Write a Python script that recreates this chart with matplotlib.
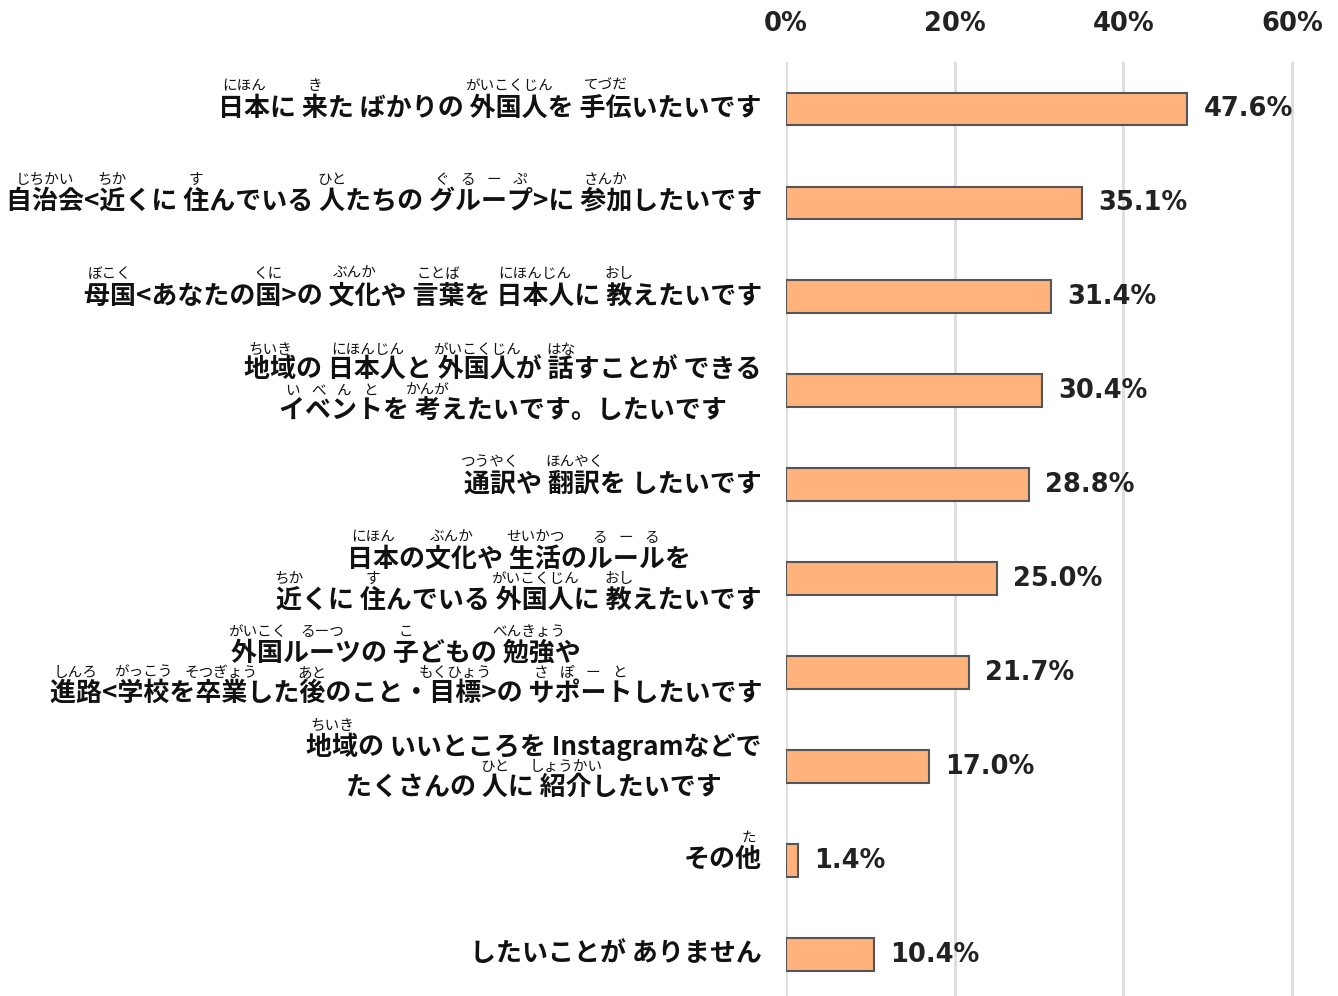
import re
import matplotlib
matplotlib.use("Agg")
import matplotlib.pyplot as plt
from matplotlib import transforms
from matplotlib.font_manager import FontProperties

plt.rcParams['font.family'] = ['Noto Sans CJK JP', 'DejaVu Sans']

# [base|reading] marks ruby; a leading * spreads the reading over each char
labels = [
    ["[日本|にほん]に [来|き]た ばかりの [外国人|がいこくじん]を [手伝|てづだ]いたいです"],
    ["[自治会|じちかい]<[近|ちか]くに [住|す]んでいる [人|ひと]たちの [グループ|*ぐるーぷ]>に [参加|さんか]したいです"],
    ["[母国|ぼこく]<あなたの[国|くに]>の [文化|ぶんか]や [言葉|ことば]を [日本人|にほんじん]に [教|おし]えたいです"],
    ["[地域|ちいき]の [日本人|にほんじん]と [外国人|がいこくじん]が [話|はな]すことが できる",
     "[イベント|*いべんと]を [考|かんが]えたいです。したいです"],
    ["[通訳|つうやく]や [翻訳|ほんやく]を したいです"],
    ["[日本|にほん]の[文化|ぶんか]や [生活|せいかつ]の[ルール|*るーる]を",
     "[近|ちか]くに [住|す]んでいる [外国人|がいこくじん]に [教|おし]えたいです"],
    ["[外国|がいこく][ルーツ|るーつ]の [子|こ]どもの [勉強|べんきょう]や",
     "[進路|しんろ]<[学校|がっこう]を[卒業|そつぎょう]した[後|あと]のこと・[目標|もくひょう]>の [サポート|*さぽーと]したいです"],
    ["[地域|ちいき]の いいところを Instagramなどで",
     "たくさんの [人|ひと]に [紹介|しょうかい]したいです"],
    ["その[他|た]"],
    ["したいことが ありません"],
]
values = [47.6, 35.1, 31.4, 30.4, 28.8, 25.0, 21.7, 17.0, 1.4, 10.4]
xticks = [0, 20, 40, 60]
xtick_labels = ["0%", "20%", "40%", "60%"]


def parse(line):
    plain = ""
    rubies = []
    for part in re.split(r"(\[[^\]]+\])", line):
        if part.startswith("["):
            base, reading = part[1:-1].split("|")
            spread = reading.startswith("*")
            rubies.append((len(plain), len(plain) + len(base), reading.lstrip("*"), spread))
            plain += base
        else:
            plain += part
    return plain, rubies


fig = plt.figure(figsize=(13.38, 9.96), dpi=100)
xmax = 60.4
ax = fig.add_axes([786 / 1338, 0, (1292 - 786) / 1338 * xmax / 60, (996 - 62) / 996])

n = len(values)
ax.barh(range(n), values, height=0.35, color="#FFB27B", edgecolor="#555555", linewidth=1.5, zorder=2)
ax.set_xlim(0, xmax)
ax.set_ylim(n - 0.56, -0.5)
ax.xaxis.tick_top()
ax.set_xticks(xticks, xtick_labels, fontfamily="DejaVu Sans", fontweight="bold", color="#222222")
ax.tick_params(axis="x", length=0, pad=18, labelsize=18.5)
ax.set_yticks([])
ax.grid(axis="x", color="#DDDDDD", linewidth=2)
ax.set_axisbelow(True)
for s in ax.spines.values():
    s.set_visible(False)

val_trans = transforms.offset_copy(ax.transData, fig, x=16, y=0, units="dots")
for i, v in enumerate(values):
    ax.text(v, i, f"{v:.1f}%", transform=val_trans, va="center", ha="left",
            fontsize=18.5, fontfamily="DejaVu Sans", fontweight="bold", color="#222222")

# category labels with furigana, drawn in pixel coordinates
renderer = fig.canvas.get_renderer()
fp_main = FontProperties(family=["Noto Sans CJK JP", "DejaVu Sans"], size=18.7, weight="bold")
fp_ruby = FontProperties(family=["Noto Sans CJK JP", "DejaVu Sans"], size=10.5, weight="normal")


def width(s, fp):
    return renderer.get_text_width_height_descent(s, fp, ismath=False)[0]


ident = transforms.IdentityTransform()
xr = 762
for i, lines in enumerate(labels):
    yc = ax.transData.transform((0, i))[1]
    if len(lines) == 1:
        offsets, gap = [-1], 22
    else:
        offsets, gap = [-20, 21], 21
    parsed = [parse(l) for l in lines]
    widths = [width(p[0], fp_main) for p in parsed]
    cx = xr - max(widths) / 2
    for (plain, rubies), w, off in zip(parsed, widths, offsets):
        y = yc - off
        left = cx - w / 2
        fig.text(cx, y, plain, transform=ident, ha="center", va="center",
                 fontproperties=fp_main, color="#111111")
        for s, e, reading, spread in rubies:
            if spread:
                for k, ch in enumerate(reading):
                    c = left + width(plain[:s + k + 1], fp_main) - width(plain[s + k], fp_main) / 2
                    fig.text(c, y + gap, ch, transform=ident, ha="center", va="center",
                             fontproperties=fp_ruby, color="#111111")
            else:
                c = left + width(plain[:e], fp_main) - width(plain[s:e], fp_main) / 2
                fig.text(c, y + gap, reading, transform=ident, ha="center", va="center",
                         fontproperties=fp_ruby, color="#111111")

fig.savefig("out.png", dpi=100)
